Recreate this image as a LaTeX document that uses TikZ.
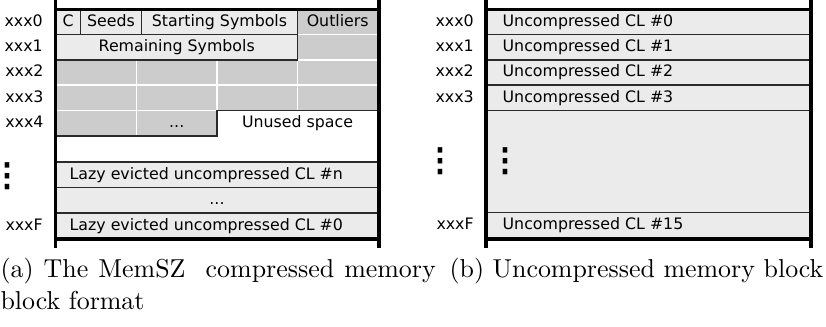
\documentclass[tikz,border=0pt]{standalone}
\usepackage{fontspec}
\newfontfamily\dvs{DejaVu Sans}
\usetikzlibrary{positioning}
\definecolor{cellgrey}{HTML}{EBEBEB}
\definecolor{slotgrey}{HTML}{CCCCCC}
\definecolor{rulegrey}{HTML}{2A2A2A}

\begin{document}
\begin{tikzpicture}[x=0.386pt, y=-0.386pt,
  cell/.style 2 args={draw=rulegrey, line width=0.7pt, fill=cellgrey, inner sep=0pt,
    minimum width=#1*0.386pt, minimum height=#2*0.386pt},
  slot/.style={fill=slotgrey, draw=white, line width=0.7pt},
  rail/.style={line width=1.2pt, black},
  lbl/.style={font=\dvs\fontsize{6.1}{7}\selectfont, inner sep=0pt, text height=4.6pt, text depth=1.2pt},
  addr/.style={lbl, anchor=east},
  vdots/.style={font=\dvs\fontsize{17}{18}\selectfont, inner sep=0pt},
  caption/.style={font=\fontsize{10}{12}\selectfont, inner sep=0pt, anchor=north west}]
  \useasboundingbox (0,0) rectangle (826,327);

  % Compressed block: grey slots
  \foreach \top/\bot in {60/85, 85/110.5}
    \foreach \l/\r in {56/136.5, 136.5/217, 217/297.5, 297.5/378}
      \draw[slot] (\l,\top) rectangle (\r,\bot);
  \draw[slot] (56,110.5) rectangle (136.5,136);
  \draw[slot] (136.5,110.5) rectangle (217,136);
  \draw[slot] (297.5,10) rectangle (378,34.5);
  \draw[slot] (297.5,34.5) rectangle (378,60);

  % Compressed block: header fields
  \node[cell={24.5}{24.5}, lbl] (c) at (68.25,22.25) {C};
  \node[cell={61}{24.5}, lbl] (seeds) at (111,22.25) {Seeds};
  \node[cell={156}{24.5}, lbl] (start) at (219.5,22.25) {Starting Symbols};
  \node[lbl] (outliers) at (337.75,22.25) {Outliers};
  \node[cell={241.5}{25.5}, lbl] (remain) at (176.75,47.25) {Remaining Symbols};
  \node[lbl] (more) at (176.75,123.25) {...};

  % Unused space
  \draw[rulegrey, line width=0.7pt] (56,136) -- (217,136) -- (217,110.5) -- (378,110.5);
  \node[lbl] (unused) at (297.5,123.25) {Unused space};

  % Lazy evicted lines
  \node[cell={322}{25.5}] (lazyn) at (217,174.75) {};
  \node[lbl, right=5.4pt of lazyn.west] (lazyntxt) {Lazy evicted uncompressed CL \#n};
  \node[cell={322}{25.5}, lbl] (lazymid) at (217,200.25) {...};
  \node[cell={322}{25.5}] (lazy0) at (217,225.75) {};
  \node[lbl, right=5.4pt of lazy0.west] (lazy0txt) {Lazy evicted uncompressed CL \#0};

  % Compressed block: addresses
  \node[addr, left=4.6pt of c.west] (la0) {xxx0};
  \node[addr, left=4.6pt of remain.west] (la1) {xxx1};
  \node[addr] (la2) at (44,72.5) {xxx2};
  \node[addr] (la3) at (44,97.75) {xxx3};
  \node[addr] (la4) at (44,123.25) {xxx4};
  \node[vdots] (ldots) at (7,177) {⁝};
  \node[addr, left=4.6pt of lazy0.west] (laF) {xxxF};

  \draw[rail] (55.5,0) -- (55.5,248);
  \draw[rail] (379,0) -- (379,248);
  \draw[rail] (55.5,9.5) -- (379,9.5);
  \draw[rail] (55.5,239) -- (379,239);

  % Uncompressed block
  \node[cell={323}{24.5}] (u0) at (648.5,22.25) {};
  \node[cell={323}{25.5}] (u1) at (648.5,47.25) {};
  \node[cell={323}{25}] (u2) at (648.5,72.5) {};
  \node[cell={323}{25.5}] (u3) at (648.5,97.75) {};
  \node[cell={323}{102}] (ugap) at (648.5,161.5) {};
  \node[cell={323}{26}] (u15) at (648.5,225.5) {};
  \node[lbl, right=6.2pt of u0.west] (u0txt) {Uncompressed CL \#0};
  \node[lbl, right=6.2pt of u1.west] (u1txt) {Uncompressed CL \#1};
  \node[lbl, right=6.2pt of u2.west] (u2txt) {Uncompressed CL \#2};
  \node[lbl, right=6.2pt of u3.west] (u3txt) {Uncompressed CL \#3};
  \node[vdots] (udots) at (505,162) {⁝};
  \node[lbl, right=6.2pt of u15.west] (u15txt) {Uncompressed CL \#15};

  % Uncompressed block: addresses
  \node[addr, left=4.6pt of u0.west] (ra0) {xxx0};
  \node[addr, left=4.6pt of u1.west] (ra1) {xxx1};
  \node[addr, left=4.6pt of u2.west] (ra2) {xxx2};
  \node[addr, left=4.6pt of u3.west] (ra3) {xxx3};
  \node[vdots] (rdots) at (440,162) {⁝};
  \node[addr, left=4.6pt of u15.west] (raF) {xxxF};

  \draw[rail] (486,0) -- (486,248);
  \draw[rail] (811,0) -- (811,248);
  \draw[rail] (486,9.5) -- (811,9.5);
  \draw[rail] (486,239) -- (811,239);

  % Captions
  \node[caption, text width=168pt, align=justify] (capa) at (0,258) {(a) The MemSZ\ \ compressed memory block format};
  \node[caption] (capb) at (449,258) {(b) Uncompressed memory block};
\end{tikzpicture}
\end{document}
